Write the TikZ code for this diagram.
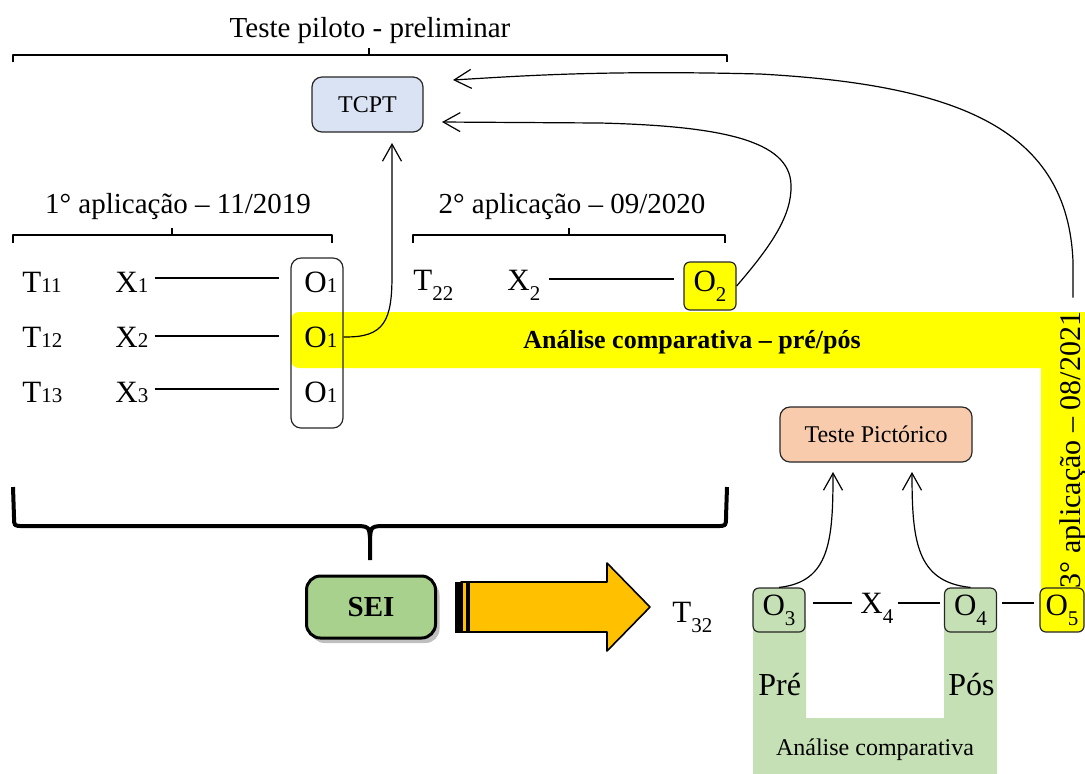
\documentclass[tikz,border=0pt]{standalone}
\usepackage{fontspec}
\setmainfont{Liberation Serif}
\usetikzlibrary{arrows.meta,shadows}

\definecolor{bandyellow}{HTML}{FFFF00}
\definecolor{tcptblue}{HTML}{DAE3F3}
\definecolor{picpeach}{HTML}{F8CBAD}
\definecolor{lightgreen}{HTML}{C5E0B4}
\definecolor{seigreen}{HTML}{A9D18E}
\definecolor{arroworange}{HTML}{FFC000}

% small index on the baseline (T11, O1) and dropped index (T22, O2, ...)
\newcommand\lowsub[1]{{\fontsize{10.5}{11}\selectfont #1}}
\newcommand\dropsub[1]{\raisebox{-5pt}{\fontsize{10.5}{11}\selectfont #1}}

\begin{document}
\begin{tikzpicture}[x=0.5pt,y=-0.5pt,line join=round,
  heading/.style={inner sep=0pt,anchor=base,font=\fontsize{14.5}{16}\selectfont},
  rowtxt/.style={inner sep=0pt,anchor=base west,font=\fontsize{15.5}{17}\selectfont},
  bracketline/.style={line width=1pt},
  link/.style={line width=1pt},
  curved/.style={line width=0.6pt,-{Straight Barb[length=8.5pt,width=9.5pt]}},
  obox/.style={draw=black!85,rounded corners=3pt,line width=0.6pt,inner sep=0pt,
    minimum width=26pt,minimum height=24pt,font=\fontsize{15.5}{17}\selectfont},
  testbox/.style={draw=black!85,rounded corners=5pt,line width=0.6pt,inner sep=0pt,
    font=\fontsize{12}{14}\selectfont}]

\useasboundingbox (0,0) rectangle (1085,773);

% yellow band: comparison of the first and second application
\fill[bandyellow,rounded corners=4pt] (291,312) rectangle (1120,368);
\fill[bandyellow] (1041,340) rectangle (1120,600);
\node[inner sep=0pt,anchor=base,font=\fontsize{13}{15}\selectfont\bfseries] (bandtxt)
  at (692,348) {Análise comparativa – pré/pós};

% green U: pre/post comparison of the third application
\fill[lightgreen] (753,620) -- (753,780) -- (997,780) -- (997,620) -- (944,620)
  -- (944,718) -- (806,718) -- (806,620) -- cycle;

% pilot test bracket
\node[heading] (pilot) at (370,37) {Teste piloto - preliminar};
\draw[bracketline] (13,62) -- (13,55) -- (727,55) -- (727,62);
\draw[bracketline] (369,55) -- (369,48);

\node[testbox,fill=tcptblue,minimum width=55.5pt,minimum height=27.5pt] (tcpt)
  at (367.5,104.5) {TCPT};

% first application
\node[heading] (app1) at (178,213) {1° aplicação – 11/2019};
\draw[bracketline] (13,243) -- (13,235) -- (332,235) -- (332,243);
\draw[bracketline] (172,235) -- (172,228);

\node[draw=black!85,rounded corners=5pt,line width=0.6pt,inner sep=0pt,
  minimum width=26pt,minimum height=85pt] (o1box) at (317,343) {};

\node[rowtxt] (t11) at (22,292) {T\lowsub{11}};
\node[rowtxt] (t12) at (22,347) {T\lowsub{12}};
\node[rowtxt] (t13) at (22,402) {T\lowsub{13}};
\node[rowtxt] (x1) at (115,292) {X\lowsub{1}};
\node[rowtxt] (x2) at (115,347) {X\lowsub{2}};
\node[rowtxt] (x3) at (115,402) {X\lowsub{3}};
\node[rowtxt] (o1a) at (304,292) {O\lowsub{1}};
\node[rowtxt] (o1b) at (304,347) {O\lowsub{1}};
\node[rowtxt] (o1c) at (304,402) {O\lowsub{1}};

\coordinate (ry1) at (0,278);
\coordinate (ry2) at (0,336);
\coordinate (ry3) at (0,389);
\draw[link,shorten <=3pt,shorten >=5.5pt] (x1.east |- ry1) -- (o1box.west |- ry1);
\draw[link,shorten <=3pt,shorten >=5.5pt] (x2.east |- ry2) -- (o1box.west |- ry2);
\draw[link,shorten <=3pt,shorten >=5.5pt] (x3.east |- ry3) -- (o1box.west |- ry3);

% second application
\node[heading] (app2) at (572,213) {2° aplicação – 09/2020};
\draw[bracketline] (413,243) -- (413,235) -- (725,235) -- (725,243);
\draw[bracketline] (569,235) -- (569,228);

\node[rowtxt] (t22) at (413,290) {T\dropsub{22}};
\node[rowtxt] (x22) at (507,290) {X\dropsub{2}};
\node[obox,fill=bandyellow] (o2) at (710,286) {O\dropsub{2}};
\coordinate (ry4) at (0,279);
\draw[link,shorten <=4pt,shorten >=4.5pt] (x22.east |- ry4) -- (o2.west |- ry4);

% arrows back to the TCPT
\coordinate (tipA) at (392,143);
\coordinate (tipB) at (442,122);
\coordinate (tipC) at (453,80);
\draw[curved] (o1box.east |- o1b.center) .. controls (385,338) and (392,320) .. (392,275) -- (tipA);
\draw[curved] (o2.east) .. controls (772,245) and (792,215) .. (791,185)
  .. controls (790,140) and (720,126) .. (600,123) -- (tipB);

% third application
\node[rotate=90,inner xsep=7pt,inner ysep=0pt,font=\fontsize{15}{17}\selectfont] (app3)
  at (1073,450) {3° aplicação – 08/2021};
\draw[curved] (app3.east) -- (1073,262) .. controls (1068,130) and (960,85) .. (760,74)
  .. controls (600,70) and (520,76) .. (tipC);

% brace over the whole pilot stage
\draw[line width=2pt] (13,487) -- (14,517) .. controls (14,526) .. (23,526) -- (360,526)
  .. controls (369,527) .. (370,538) -- (370,560);
\draw[line width=2pt] (727,487) -- (726,517) .. controls (726,526) .. (717,526) -- (380,526)
  .. controls (371,527) .. (370,538);

% SEI and the big arrow
\node[draw=black,line width=1.5pt,fill=seigreen,rounded corners=7pt,inner sep=0pt,
  minimum width=64.5pt,minimum height=31pt,font=\fontsize{14.5}{16}\selectfont\bfseries,
  drop shadow={shadow xshift=2pt,shadow yshift=-2.5pt,opacity=0.25,fill=black}] (sei)
  at (371,607) {SEI};

\draw[line width=0.8pt,fill=arroworange] (461,582) -- (607,582) -- (607,563) -- (650,607)
  -- (607,651) -- (607,632) -- (461,632) -- cycle;
\fill[black] (455,581.5) rectangle (463,632.5);
\fill[black] (466,581.5) rectangle (470,632.5);

\node[rowtxt] (t32) at (672,622) {T\dropsub{32}};

% pictorial test
\node[testbox,fill=picpeach,minimum width=96pt,minimum height=27.5pt] (tp)
  at (876,434.5) {Teste Pictórico};

\node[obox,fill=lightgreen,minimum height=22pt] (o3) at (779,610) {O\dropsub{3}};
\node[obox,fill=lightgreen,minimum height=22pt] (o4) at (970.5,610) {O\dropsub{4}};
\node[obox,fill=bandyellow,minimum width=22pt,minimum height=22pt] (o5) at (1062,610) {O\dropsub{5}};
\node[rowtxt] (x4) at (860,613) {X\dropsub{4}};

\coordinate (ry5) at (0,603);
\draw[link,shorten <=3.5pt,shorten >=4pt] (o3.east |- ry5) -- (x4.west |- ry5);
\draw[link,shorten <=2pt,shorten >=2pt] (x4.east |- ry5) -- (o4.west |- ry5);
\draw[link,shorten <=2.5pt,shorten >=2.5pt] (o4.east |- ry5) -- (o5.west |- ry5);

\coordinate (tpa) at (833,472);
\coordinate (tpb) at (912,472);
\draw[curved] (o3.north) .. controls (830,582) and (833,540) .. (tpa);
\draw[curved] (o4.north) .. controls (916,582) and (912,540) .. (tpb);

\node[rowtxt,font=\fontsize{16}{18}\selectfont] (pre) at (758,695) {Pré};
\node[rowtxt,font=\fontsize{16}{18}\selectfont] (pos) at (948,695) {Pós};
\node[inner sep=0pt,anchor=base,font=\fontsize{12}{14}\selectfont] (cmp) at (875,755)
  {Análise comparativa};

\end{tikzpicture}
\end{document}
